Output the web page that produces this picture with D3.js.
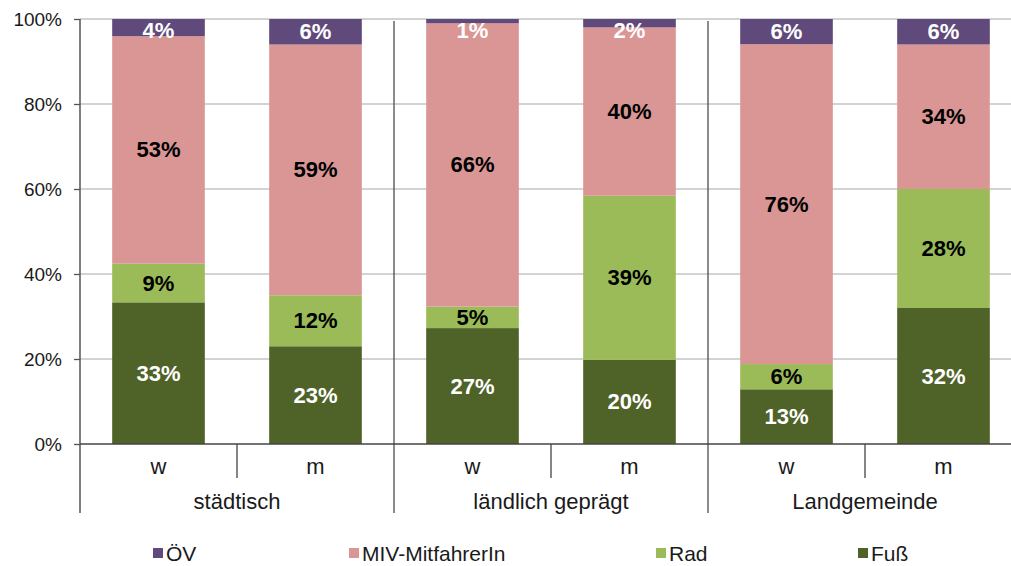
<!DOCTYPE html>
<html>
<head>
<meta charset="utf-8">
<script src="https://cdn.jsdelivr.net/npm/d3@7/dist/d3.min.js"></script>
<style>
  html, body { margin: 0; padding: 0; background: #fff; }
  svg { display: block; font-family: "Liberation Sans", Arial, sans-serif; }
</style>
</head>
<body>
<svg id="chart" width="1011" height="566"></svg>
<script>
// Gemeindetypen und Geschlecht
const groups = ["städtisch", "ländlich geprägt", "Landgemeinde"];
const sexes = ["w", "m"];

// Anteile je Verkehrsmittel in Prozent, Reihenfolge: städtisch w, m, ländlich w, m, Landgemeinde w, m
const fuss = [33, 23, 27, 20, 13, 32];
const rad = [9, 12, 5, 39, 6, 28];
const miv = [53, 59, 66, 40, 76, 34];
const oev = [4, 6, 1, 2, 6, 6];

const seriesNames = ["ÖV", "MIV-MitfahrerIn", "Rad", "Fuß"];
const yTicks = [0, 0.2, 0.4, 0.6, 0.8, 1.0];

const colors = {
  "ÖV": "#604a7b",
  "MIV-MitfahrerIn": "#d99694",
  "Rad": "#9bbb59",
  "Fuß": "#4f6228"
};
const labelColors = {
  "ÖV": "#ffffff",
  "MIV-MitfahrerIn": "#000000",
  "Rad": "#000000",
  "Fuß": "#ffffff"
};

// Tabelle für den Stapel
const rows = [];
groups.forEach((g, gi) => {
  sexes.forEach((s, si) => {
    const i = gi * sexes.length + si;
    rows.push({
      group: g, sex: s,
      "Fuß": fuss[i], "Rad": rad[i], "MIV-MitfahrerIn": miv[i], "ÖV": oev[i]
    });
  });
});

const svg = d3.select("#chart");
const plot = { left: 80, right: 1022, top: 19, bottom: 444 };

const xGroup = d3.scaleBand().domain(groups).range([plot.left, plot.right]);
const xSex = d3.scaleBand().domain(sexes).range([0, xGroup.bandwidth()])
  .paddingInner(0.41).paddingOuter(0.205);
const y = d3.scaleLinear().domain([0, 1]).range([plot.bottom, plot.top]);

const stackKeys = ["Fuß", "Rad", "MIV-MitfahrerIn", "ÖV"];
const stacked = d3.stack().keys(stackKeys).offset(d3.stackOffsetExpand)(rows);

// Gitterlinien
svg.append("g")
  .selectAll("line")
  .data(yTicks.filter(t => t > 0))
  .join("line")
  .attr("x1", plot.left).attr("x2", 1011)
  .attr("y1", d => y(d)).attr("y2", d => y(d))
  .attr("stroke", "#c4c4c4").attr("stroke-width", 1.5);

// Balken
const barX = d => xGroup(d.data.group) + xSex(d.data.sex);
const layers = svg.append("g").selectAll("g")
  .data(stacked)
  .join("g")
  .attr("fill", d => colors[d.key]);
layers.selectAll("rect")
  .data(d => d)
  .join("rect")
  .attr("x", barX)
  .attr("width", xSex.bandwidth())
  .attr("y", d => y(d[1]))
  .attr("height", d => y(d[0]) - y(d[1]));

// Gruppentrenner innerhalb der Zeichenfläche
svg.append("g")
  .selectAll("line")
  .data(groups.slice(1))
  .join("line")
  .attr("x1", d => xGroup(d)).attr("x2", d => xGroup(d))
  .attr("y1", plot.top + 2).attr("y2", 513)
  .attr("stroke", "#4d4d4d").attr("stroke-width", 1.3);

// Y-Achse
const yAxis = svg.append("g")
  .attr("transform", `translate(${plot.left},0)`)
  .call(d3.axisLeft(y).tickValues(yTicks).tickFormat(d3.format(".0%")).tickSize(6).tickPadding(12));
yAxis.select(".domain").remove();
yAxis.selectAll(".tick line").attr("stroke", "#555").attr("stroke-width", 1.3);
yAxis.selectAll(".tick text")
  .attr("fill", "#1a1a1a")
  .style("font-size", "19px")
  .style("font-family", "'Liberation Sans', Arial, sans-serif");
svg.append("line")
  .attr("x1", plot.left).attr("x2", plot.left)
  .attr("y1", plot.top).attr("y2", 513)
  .attr("stroke", "#555").attr("stroke-width", 1.5);

// X-Achse
svg.append("line")
  .attr("x1", plot.left).attr("x2", 1011)
  .attr("y1", plot.bottom).attr("y2", plot.bottom)
  .attr("stroke", "#444").attr("stroke-width", 1.5);

// Trenner zwischen w und m
svg.append("g")
  .selectAll("line")
  .data(groups)
  .join("line")
  .attr("x1", d => xGroup(d) + xGroup.bandwidth() / 2)
  .attr("x2", d => xGroup(d) + xGroup.bandwidth() / 2)
  .attr("y1", plot.bottom).attr("y2", 478)
  .attr("stroke", "#444").attr("stroke-width", 1.3);

// Geschlechtsbeschriftung
svg.append("g")
  .selectAll("text")
  .data(rows)
  .join("text")
  .attr("x", d => xGroup(d.group) + xSex(d.sex) + xSex.bandwidth() / 2)
  .attr("y", 466)
  .attr("text-anchor", "middle")
  .attr("dominant-baseline", "central")
  .attr("fill", "#1a1a1a")
  .style("font-size", "22px")
  .text(d => d.sex);

// Gruppenbeschriftung
svg.append("g")
  .selectAll("text")
  .data(groups)
  .join("text")
  .attr("x", d => xGroup(d) + xGroup.bandwidth() / 2)
  .attr("y", 501)
  .attr("text-anchor", "middle")
  .attr("dominant-baseline", "central")
  .attr("fill", "#1a1a1a")
  .style("font-size", "22px")
  .text(d => d);

// Wertebeschriftungen
const labelG = svg.append("g");
stacked.forEach(layer => {
  labelG.selectAll(null)
    .data(layer)
    .join("text")
    .attr("x", d => barX(d) + xSex.bandwidth() / 2)
    .attr("y", d => Math.max(y((d[0] + d[1]) / 2), plot.top + 11.5))
    .attr("text-anchor", "middle")
    .attr("dominant-baseline", "central")
    .attr("fill", labelColors[layer.key])
    .style("font-size", "22px")
    .style("font-weight", "bold")
    .text(d => d.data[layer.key] + "%");
});

// Legende
const legendX = [153, 349, 656, 858];
const legend = svg.append("g")
  .selectAll("g")
  .data(seriesNames)
  .join("g")
  .attr("transform", (d, i) => `translate(${legendX[i]},553)`);
legend.append("rect")
  .attr("x", 0).attr("y", -5)
  .attr("width", 10).attr("height", 10)
  .attr("fill", d => colors[d]);
legend.append("text")
  .attr("x", 13).attr("y", 0)
  .attr("dominant-baseline", "central")
  .attr("fill", "#1a1a1a")
  .style("font-size", "21px")
  .text(d => d);
</script>
</body>
</html>
